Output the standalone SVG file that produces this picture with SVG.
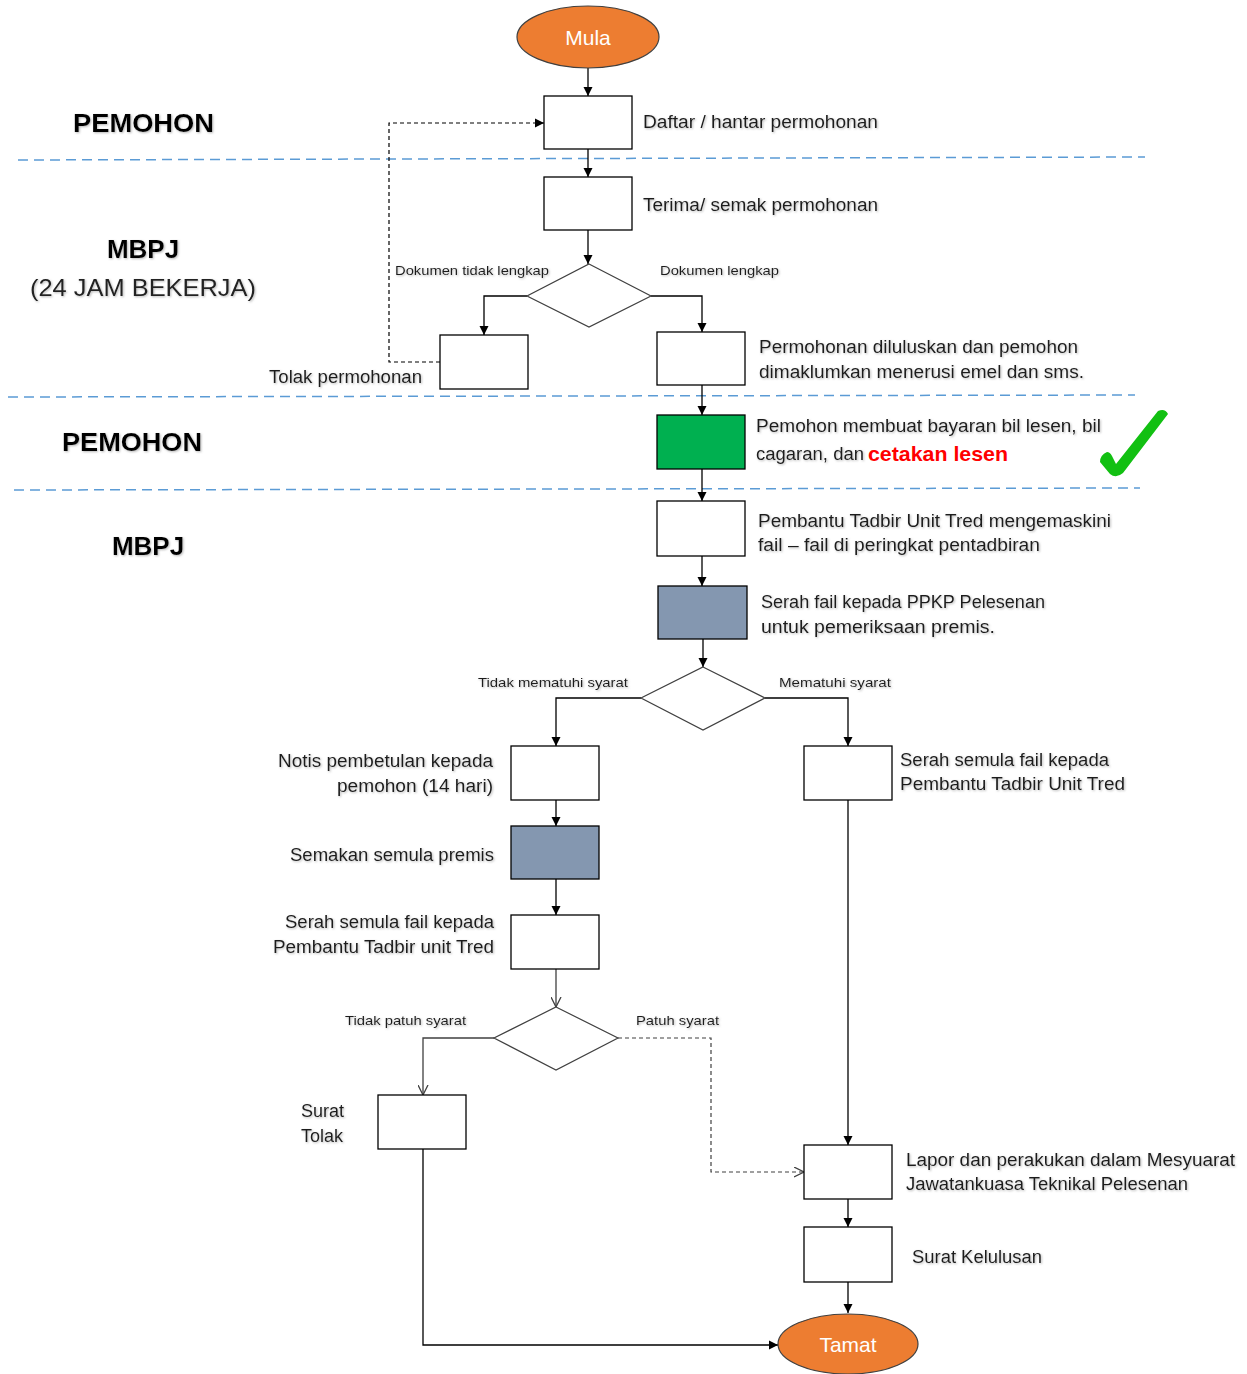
<svg xmlns="http://www.w3.org/2000/svg" width="1247" height="1374" viewBox="0 0 1247 1374">
<style>
  .box{fill:#fff;stroke:#000;stroke-width:1.3}
  .green{fill:#00B050}
  .slate{fill:#8497B0}
  .dia{fill:#fff;stroke:#404040;stroke-width:1.2}
  .term{fill:#ED7D31;stroke:#404040;stroke-width:1.2}
  .lane{stroke:#5B9BD5;stroke-width:1.5;stroke-dasharray:10 6;fill:none}
  .c{fill:none;stroke:#000;stroke-width:1.3;marker-end:url(#ah)}
  .co{fill:none;stroke:#404040;stroke-width:1.3;marker-end:url(#oh)}
  .cd{fill:none;stroke:#000;stroke-width:1.2;stroke-dasharray:4 3;marker-end:url(#ah)}
  .cdo{fill:none;stroke:#404040;stroke-width:1.2;stroke-dasharray:4 3;marker-end:url(#oh)}
  text{font-family:"Liberation Sans",Arial,sans-serif;fill:#1a1a1a}
  .lbl{font-size:18px;filter:url(#sh)}
  .sm{font-size:13.5px;filter:url(#sh)}
  .hd{font-size:26px;font-weight:bold;fill:#000;filter:url(#sh)}
  .hr{font-size:24px;fill:#222;filter:url(#sh)}
  .tw{font-size:21px;fill:#fff;text-anchor:middle}
  .red{fill:#FF0000;font-weight:bold;font-size:21px}
</style>
<defs>
  <marker id="ah" viewBox="0 0 10 10" refX="10" refY="5" markerUnits="userSpaceOnUse" markerWidth="9" markerHeight="10" orient="auto">
    <path d="M0,0 L10,5 L0,10 Z" fill="#000"/>
  </marker>
  <marker id="oh" viewBox="0 0 10 10" refX="10" refY="5" markerUnits="userSpaceOnUse" markerWidth="10" markerHeight="11" orient="auto">
    <path d="M0,0 L10,5 L0,10" fill="none" stroke="#404040" stroke-width="1.3"/>
  </marker>
  <filter id="sh" x="-5%" y="-30%" width="110%" height="160%">
    <feDropShadow dx="1" dy="1" stdDeviation="0.8" flood-color="#888" flood-opacity="0.6"/>
  </filter>
</defs>

<!-- swimlane separators -->
<g id="lanes">
  <line class="lane" x1="18" y1="160" x2="1145" y2="157"/>
  <line class="lane" x1="8" y1="397" x2="1135" y2="395"/>
  <line class="lane" x1="14" y1="490" x2="1140" y2="488"/>
  <text class="hd" x="73" y="132" textLength="141" lengthAdjust="spacingAndGlyphs">PEMOHON</text>
  <text class="hd" x="143" y="258" text-anchor="middle">MBPJ</text>
  <text class="hr" x="30" y="296" textLength="226" lengthAdjust="spacingAndGlyphs">(24 JAM BEKERJA)</text>
  <text class="hd" x="62" y="451" textLength="140" lengthAdjust="spacingAndGlyphs">PEMOHON</text>
  <text class="hd" x="148" y="555" text-anchor="middle">MBPJ</text>
</g>

<!-- connectors -->
<g id="connectors">
  <path class="c" d="M588,68 V96"/>
  <path class="c" d="M588,149 V177"/>
  <path class="c" d="M588,230 V264"/>
  <path class="c" d="M527,296 H484 V335"/>
  <path class="c" d="M651,296 H702 V332"/>
  <path class="cd" d="M440,362 H389 V123 H544"/>
  <path class="c" d="M702,385 V415"/>
  <path class="c" d="M702,469 V501"/>
  <path class="c" d="M702,556 V586"/>
  <path class="c" d="M703,639 V667"/>
  <path class="c" d="M641,698 H556 V746"/>
  <path class="c" d="M765,698 H848 V746"/>
  <path class="c" d="M556,800 V826"/>
  <path class="c" d="M556,879 V915"/>
  <path class="co" d="M556,969 V1007"/>
  <path class="co" d="M494,1038 H423 V1095"/>
  <path class="cdo" d="M618,1038 H711 V1172 H804"/>
  <path class="c" d="M848,800 V1145"/>
  <path class="c" d="M848,1199 V1227"/>
  <path class="c" d="M848,1282 V1313"/>
  <path class="c" d="M423,1149 V1345 H778"/>
  <text class="sm" x="395" y="275" textLength="154" lengthAdjust="spacingAndGlyphs">Dokumen tidak lengkap</text>
  <text class="sm" x="660" y="275" textLength="119" lengthAdjust="spacingAndGlyphs">Dokumen lengkap</text>
  <text class="sm" x="478" y="687" textLength="150" lengthAdjust="spacingAndGlyphs">Tidak mematuhi syarat</text>
  <text class="sm" x="779" y="687" textLength="112" lengthAdjust="spacingAndGlyphs">Mematuhi syarat</text>
  <text class="sm" x="345" y="1025" textLength="121" lengthAdjust="spacingAndGlyphs">Tidak patuh syarat</text>
  <text class="sm" x="636" y="1025" textLength="83" lengthAdjust="spacingAndGlyphs">Patuh syarat</text>
</g>

<g id="mula">
  <ellipse class="term" cx="588" cy="37" rx="71" ry="31"/>
  <text class="tw" x="588" y="45">Mula</text>
</g>
<g id="daftar">
  <rect class="box" x="544" y="96" width="88" height="53"/>
  <text class="lbl" x="643" y="128" textLength="235" lengthAdjust="spacingAndGlyphs">Daftar / hantar permohonan</text>
</g>
<g id="terima">
  <rect class="box" x="544" y="177" width="88" height="53"/>
  <text class="lbl" x="643" y="211" textLength="235" lengthAdjust="spacingAndGlyphs">Terima/ semak permohonan</text>
</g>
<g id="semak-dokumen">
  <polygon class="dia" points="589,264 651,296 589,327 527,296"/>
</g>
<g id="tolak-permohonan">
  <rect class="box" x="440" y="335" width="88" height="54"/>
  <text class="lbl" x="269" y="383" textLength="153" lengthAdjust="spacingAndGlyphs">Tolak permohonan</text>
</g>
<g id="diluluskan">
  <rect class="box" x="657" y="332" width="88" height="53"/>
  <text class="lbl" x="759" y="353" textLength="319" lengthAdjust="spacingAndGlyphs">Permohonan  diluluskan dan pemohon</text>
  <text class="lbl" x="759" y="378" textLength="325" lengthAdjust="spacingAndGlyphs">dimaklumkan menerusi emel dan sms.</text>
</g>
<g id="bayaran">
  <rect class="box green" x="657" y="415" width="88" height="54"/>
  <text class="lbl" x="756" y="432" textLength="345" lengthAdjust="spacingAndGlyphs">Pemohon  membuat  bayaran bil lesen, bil</text>
  <text class="lbl" x="756" y="460" textLength="108" lengthAdjust="spacingAndGlyphs">cagaran, dan</text>
  <text class="red" x="868" y="461" textLength="140" lengthAdjust="spacingAndGlyphs">cetakan lesen</text>
  <path d="M1100,462 Q1100,455 1107,452 Q1110,452 1112,456 L1116,464 L1158,411 Q1165,408 1168,414 L1123,473 Q1116,479 1110,474 Z" fill="#12C012"/>
</g>
<g id="kemaskini">
  <rect class="box" x="657" y="501" width="88" height="55"/>
  <text class="lbl" x="758" y="527" textLength="353" lengthAdjust="spacingAndGlyphs">Pembantu  Tadbir Unit Tred  mengemaskini</text>
  <text class="lbl" x="758" y="551" textLength="282" lengthAdjust="spacingAndGlyphs">fail – fail di peringkat pentadbiran</text>
</g>
<g id="serah-ppkp">
  <rect class="box slate" x="658" y="586" width="89" height="53"/>
  <text class="lbl" x="761" y="608" textLength="284" lengthAdjust="spacingAndGlyphs">Serah fail kepada PPKP  Pelesenan</text>
  <text class="lbl" x="761" y="633" textLength="234" lengthAdjust="spacingAndGlyphs">untuk  pemeriksaan  premis.</text>
</g>
<g id="semak-syarat">
  <polygon class="dia" points="703,667 765,698 703,730 641,698"/>
</g>
<g id="notis">
  <rect class="box" x="511" y="746" width="88" height="54"/>
  <text class="lbl" x="493" y="767" text-anchor="end" textLength="215" lengthAdjust="spacingAndGlyphs">Notis pembetulan kepada</text>
  <text class="lbl" x="493" y="792" text-anchor="end" textLength="156" lengthAdjust="spacingAndGlyphs">pemohon  (14 hari)</text>
</g>
<g id="serah-semula-kanan">
  <rect class="box" x="804" y="746" width="88" height="54"/>
  <text class="lbl" x="900" y="766" textLength="209" lengthAdjust="spacingAndGlyphs">Serah semula fail kepada</text>
  <text class="lbl" x="900" y="790" textLength="225" lengthAdjust="spacingAndGlyphs">Pembantu Tadbir Unit Tred</text>
</g>
<g id="semakan-semula">
  <rect class="box slate" x="511" y="826" width="88" height="53"/>
  <text class="lbl" x="494" y="861" text-anchor="end" textLength="204" lengthAdjust="spacingAndGlyphs">Semakan semula premis</text>
</g>
<g id="serah-semula-kiri">
  <rect class="box" x="511" y="915" width="88" height="54"/>
  <text class="lbl" x="494" y="928" text-anchor="end" textLength="209" lengthAdjust="spacingAndGlyphs">Serah semula fail kepada</text>
  <text class="lbl" x="494" y="953" text-anchor="end" textLength="221" lengthAdjust="spacingAndGlyphs">Pembantu  Tadbir unit Tred</text>
</g>
<g id="semak-patuh">
  <polygon class="dia" points="556,1007 618,1038 556,1070 494,1038"/>
</g>
<g id="surat-tolak">
  <rect class="box" x="378" y="1095" width="88" height="54"/>
  <text class="lbl" x="301" y="1117">Surat</text>
  <text class="lbl" x="301" y="1142">Tolak</text>
</g>
<g id="lapor">
  <rect class="box" x="804" y="1145" width="88" height="54"/>
  <text class="lbl" x="906" y="1166" textLength="329" lengthAdjust="spacingAndGlyphs">Lapor dan perakukan dalam Mesyuarat</text>
  <text class="lbl" x="906" y="1190" textLength="282" lengthAdjust="spacingAndGlyphs">Jawatankuasa Teknikal Pelesenan</text>
</g>
<g id="surat-kelulusan">
  <rect class="box" x="804" y="1227" width="88" height="55"/>
  <text class="lbl" x="912" y="1263" textLength="130" lengthAdjust="spacingAndGlyphs">Surat Kelulusan</text>
</g>
<g id="tamat">
  <ellipse class="term" cx="848" cy="1344" rx="70" ry="30"/>
  <text class="tw" x="848" y="1352">Tamat</text>
</g>
</svg>
